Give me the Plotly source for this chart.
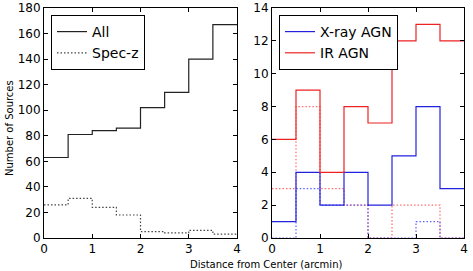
import plotly.graph_objects as go

bin_edges = [0, 0.5, 1.0, 1.5, 2.0, 2.5, 3.0, 3.5, 4.0]
all_counts = [63, 81, 84, 86, 102, 114, 140, 167]
specz_counts = [26, 31, 24, 18, 5, 4, 6, 3]
xray_counts = [1, 4, 2, 4, 2, 5, 8, 3]
ir_counts = [6, 9, 4, 8, 7, 12, 13, 12]
xray_specz = [0, 3, 2, 2, 0, 0, 1, 0]
ir_specz = [3, 8, 3, 2, 0, 2, 2, 0]

W, H = 473, 271


def step(vals):
    return list(vals) + [vals[-1]]


fig = go.Figure()
FONT = "DejaVu Sans"
DOT = "1.5px,2px"

def add(vals, color, dash, name, xa, ya, legend, show):
    fig.add_trace(go.Scatter(
        x=bin_edges, y=step(vals), mode="lines", line_shape="hv",
        line=dict(color=color, width=1.2, dash=dash), name=name,
        xaxis=xa, yaxis=ya, legend=legend, showlegend=show))

add(all_counts, "#222222", "solid", "All", "x", "y", "legend", True)
add(specz_counts, "#444444", DOT, "Spec-z", "x", "y", "legend", True)
add(ir_specz, "rgba(255,60,60,0.75)", DOT, "IR spec-z", "x2", "y2", "legend2", False)
add(xray_specz, "rgba(60,60,255,0.8)", DOT, "X-ray spec-z", "x2", "y2", "legend2", False)
add(xray_counts, "#2222dd", "solid", "X-ray AGN", "x2", "y2", "legend2", True)
add(ir_counts, "#ee2222", "solid", "IR AGN", "x2", "y2", "legend2", True)

ax_common = dict(showline=True, mirror="ticks", linecolor="black", linewidth=1,
                 ticks="inside", ticklen=4, tickcolor="black", showgrid=False,
                 zeroline=False, automargin=False,
                 tickfont=dict(family=FONT, size=12, color="black"))

y0 = (H - 238) / H
y1 = (H - 8) / H
fig.update_layout(
    width=W, height=H, margin=dict(l=0, r=0, t=0, b=0, autoexpand=False),
    plot_bgcolor="white", paper_bgcolor="white",
    font=dict(family=FONT, color="black"),
    xaxis=dict(domain=[44 / W, 237 / W], range=[0, 4], dtick=1, anchor="y", **ax_common),
    yaxis=dict(domain=[y0, y1], range=[0, 180], dtick=20, anchor="x", **ax_common),
    xaxis2=dict(domain=[272 / W, 464 / W], range=[0, 4], dtick=1, anchor="y2", **ax_common),
    yaxis2=dict(domain=[y0, y1], range=[0, 14], dtick=2, anchor="x2", **ax_common),
    legend=dict(x=51 / W, y=1 - 15 / H, xanchor="left", yanchor="top",
                bordercolor="black", borderwidth=1, bgcolor="white", itemwidth=30,
                font=dict(family=FONT, size=14)),
    legend2=dict(x=279 / W, y=1 - 15 / H, xanchor="left", yanchor="top",
                 bordercolor="black", borderwidth=1, bgcolor="white", itemwidth=30,
                 font=dict(family=FONT, size=14)),
    annotations=[
        dict(text="Number of Sources", x=9 / W, y=(H - 128) / H, xref="paper", yref="paper",
             xanchor="center", yanchor="middle",
             textangle=-90, showarrow=False, font=dict(family=FONT, size=10)),
        dict(text="Distance from Center (arcmin)", x=266 / W, y=(H - 264) / H,
             xref="paper", yref="paper", xanchor="center", yanchor="middle",
             showarrow=False, font=dict(family=FONT, size=10)),
    ],
)

fig.write_html("out.html")
